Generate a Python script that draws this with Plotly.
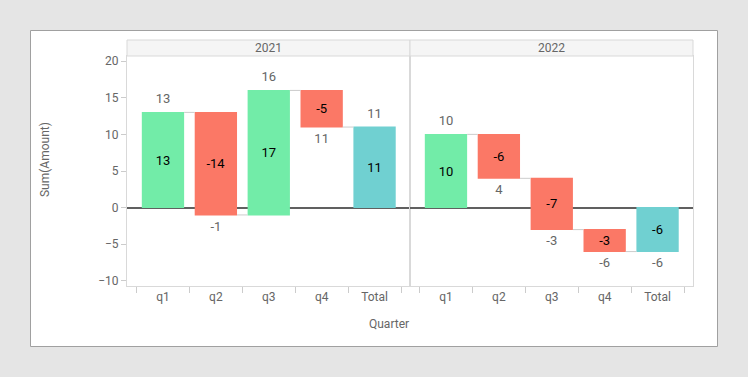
import numpy as np
import plotly.graph_objects as go
from plotly.subplots import make_subplots

years = ["2021", "2022"]
quarters = ["q1", "q2", "q3", "q4"]
total_label = "Total"
amounts_2021 = [13, -14, 17, -5]
amounts_2022 = [10, -6, -7, -3]
y_ticks = [-10, -5, 0, 5, 10, 15, 20]

GREEN = "#72ECA8"
RED = "#FB7866"
TEAL = "#70D0D1"
TXT = "#666666"
FONT = "Roboto"

fig = make_subplots(rows=1, cols=2, shared_yaxes=True, horizontal_spacing=0)

for i, (yr, vals) in enumerate(zip(years, [amounts_2021, amounts_2022])):
    col = i + 1
    cats = quarters + [total_label]
    cum = list(np.cumsum(vals))
    total = cum[-1]
    fig.add_trace(go.Waterfall(
        x=cats,
        y=vals + [0],
        measure=["relative"] * len(vals) + ["total"],
        text=[str(v) for v in vals] + [str(total)],
        textposition="inside",
        insidetextanchor="middle",
        constraintext="none",
        textfont=dict(color="black", size=13, family=FONT),
        increasing=dict(marker=dict(color=GREEN)),
        decreasing=dict(marker=dict(color=RED)),
        totals=dict(marker=dict(color=TEAL)),
        connector=dict(mode="between", line=dict(color="#cccccc", width=1)),
        showlegend=False,
        hoverinfo="skip",
    ), row=1, col=col)
    ends = cum + [total]
    steps = vals + [total]
    pos = ["top center" if s >= 0 else "bottom center" for s in steps]
    fig.add_trace(go.Scatter(
        x=cats, y=ends, mode="markers+text",
        marker=dict(size=8, opacity=0, color="white"),
        text=[str(e) for e in ends],
        textposition=pos,
        textfont=dict(color=TXT, size=13, family=FONT),
        showlegend=False, hoverinfo="skip",
    ), row=1, col=col)

for c in (1, 2):
    fig.update_xaxes(
        row=1, col=c, type="category", range=[-0.68, 4.67],
        tickson="boundaries", ticks="outside", ticklen=6, tickcolor="#cccccc",
        showline=True, linecolor="#d9d9d9", linewidth=1, mirror=True,
        showgrid=False, tickfont=dict(color=TXT, size=12, family=FONT),
        fixedrange=True,
    )
fig.update_yaxes(
    range=[-10.7, 20.7], tickvals=y_ticks, showgrid=False,
    zeroline=True, zerolinecolor="#606060", zerolinewidth=2,
    showline=True, linecolor="#d9d9d9", linewidth=1, mirror=True,
)
fig.update_yaxes(row=1, col=1, ticks="outside", ticklen=5, tickcolor="#cccccc",
                 tickfont=dict(color=TXT, size=12, family=FONT))
fig.update_yaxes(row=1, col=2, ticks="", showticklabels=False)

L, R, T, B = 127, 55, 56, 91
W, H = 748, 377
pw, ph = W - L - R, H - T - B

def px(xp):
    return (xp - L) / pw

def py(yp):
    return (H - B - yp) / ph

shapes = [
    dict(type="rect", xref="paper", yref="paper", x0=px(30.5), x1=px(717.5),
         y0=py(346.5), y1=py(30.5), fillcolor="white",
         line=dict(color="#a0a0a0", width=1), layer="below"),
]
annotations = []
for i, yr in enumerate(years):
    x0, x1 = i * 0.5, (i + 1) * 0.5
    shapes.append(dict(type="rect", xref="paper", yref="paper", x0=x0, x1=x1,
                       y0=1, y1=py(40), fillcolor="#f5f5f5",
                       line=dict(color="#d9d9d9", width=1)))
    annotations.append(dict(text=yr, xref="paper", yref="paper", x=(x0 + x1) / 2,
                            y=(1 + py(40)) / 2, showarrow=False,
                            font=dict(color=TXT, size=12, family=FONT),
                            xanchor="center", yanchor="middle"))
annotations.append(dict(text="Quarter", xref="paper", yref="paper", x=px(389), y=py(324),
                        showarrow=False, font=dict(color=TXT, size=12, family=FONT),
                        xanchor="center", yanchor="middle"))
annotations.append(dict(text="Sum(Amount)", xref="paper", yref="paper", x=px(45), y=py(160),
                        showarrow=False, textangle=-90,
                        font=dict(color=TXT, size=12, family=FONT),
                        xanchor="center", yanchor="middle"))

fig.update_layout(
    width=W, height=H,
    margin=dict(l=L, r=R, t=T, b=B),
    paper_bgcolor="#e5e5e5", plot_bgcolor="white",
    waterfallgap=0.2,
    shapes=shapes, annotations=annotations,
    font=dict(family=FONT, color=TXT),
)

fig.write_html("out.html", config={"displayModeBar": False, "staticPlot": True},
               post_script="document.body.style.margin='0';document.body.style.overflow='hidden';")
